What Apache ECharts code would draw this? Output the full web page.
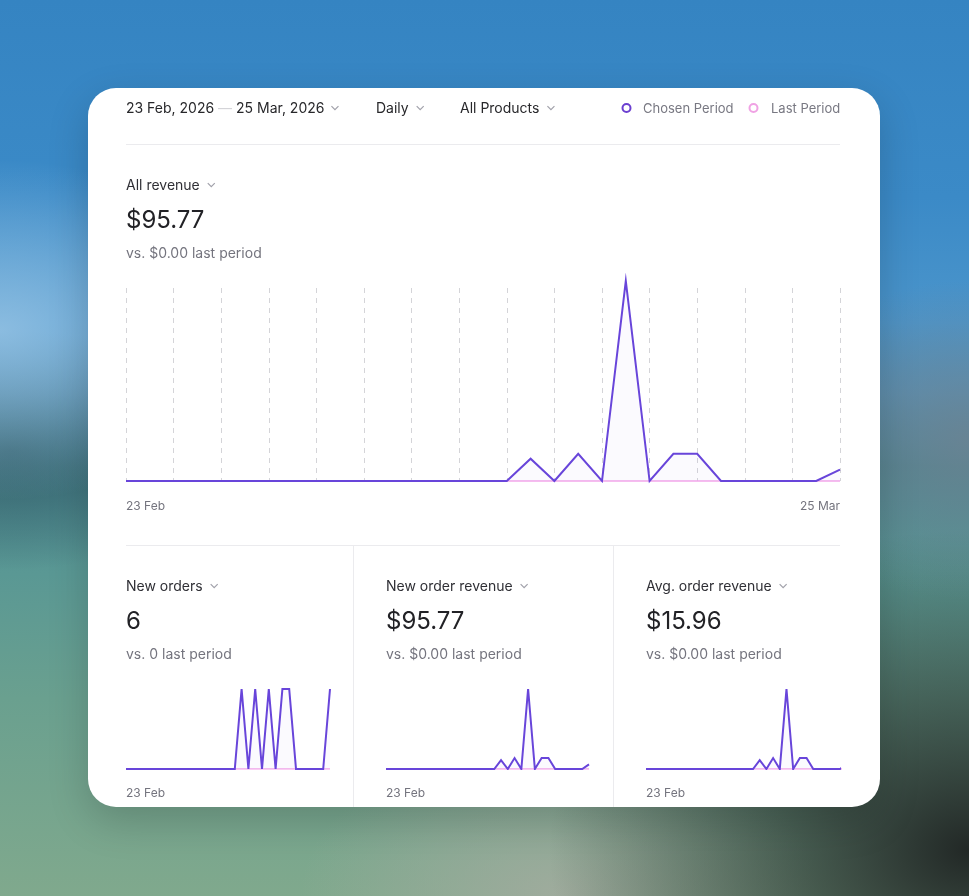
<!DOCTYPE html>
<html>
<head>
<meta charset="utf-8">
<script src="https://cdn.jsdelivr.net/npm/echarts@6/dist/echarts.min.js"></script>
<style>
html,body{margin:0;padding:0;width:969px;height:896px;overflow:hidden;}
body{
  background:
    radial-gradient(ellipse 260px 170px at 0px 330px, rgba(150,195,228,0.85), rgba(150,195,228,0) 100%),
    radial-gradient(ellipse 220px 120px at 10px 450px, rgba(45,85,95,0.75), rgba(45,85,95,0) 100%),
    radial-gradient(ellipse 200px 160px at 969px 440px, rgba(110,130,145,0.8), rgba(110,130,145,0) 100%),
    radial-gradient(ellipse 420px 320px at 969px 850px, rgba(34,40,38,1), rgba(34,40,38,0) 100%),
    radial-gradient(ellipse 260px 160px at 560px 896px, rgba(165,172,160,0.85), rgba(165,172,160,0) 100%),
    linear-gradient(180deg, #3584c2 0%, #3b8ac7 22%, #4b95cb 36%, #5492b8 44%, #4a8590 52%, #5a9894 64%, #6aa08f 78%, #80a98d 100%);
}
#card{position:absolute;left:88px;top:88px;width:792px;height:719px;background:#fff;border-radius:28px;box-shadow:0 14px 40px rgba(0,0,0,0.18);}
#chart{position:absolute;left:0;top:0;width:969px;height:896px;}
</style>
</head>
<body>
<div id="card"></div>
<div id="chart"></div>
<script>
// ---------- DATA ----------
const dates = ['23 Feb','24 Feb','25 Feb','26 Feb','27 Feb','28 Feb','1 Mar','2 Mar','3 Mar','4 Mar','5 Mar','6 Mar','7 Mar','8 Mar','9 Mar','10 Mar','11 Mar','12 Mar','13 Mar','14 Mar','15 Mar','16 Mar','17 Mar','18 Mar','19 Mar','20 Mar','21 Mar','22 Mar','23 Mar','24 Mar','25 Mar'];

const chosenRevenue = [0,0,0,0,0,0,0,0,0,0,0,0,0,0,0,0,0,6.77,0,8.28,0,60.71,0,8.28,8.28,0,0,0,0,0,3.45];
const lastRevenue   = [0,0,0,0,0,0,0,0,0,0,0,0,0,0,0,0,0,0,0,0,0,0,0,0,0,0,0,0,0,0,0];

const chosenOrders  = [0,0,0,0,0,0,0,0,0,0,0,0,0,0,0,0,0,1,0,1,0,1,0,1,1,0,0,0,0,0,1];
const lastOrders    = [0,0,0,0,0,0,0,0,0,0,0,0,0,0,0,0,0,0,0,0,0,0,0,0,0,0,0,0,0,0,0];

const chosenNewOrderRevenue = [0,0,0,0,0,0,0,0,0,0,0,0,0,0,0,0,0,6.77,0,8.28,0,60.71,0,8.28,8.28,0,0,0,0,0,3.45];
const lastNewOrderRevenue   = [0,0,0,0,0,0,0,0,0,0,0,0,0,0,0,0,0,0,0,0,0,0,0,0,0,0,0,0,0,0,0];

const chosenAvgOrderRevenue = [0,0,0,0,0,0,0,0,0,0,0,0,0,0,0,0,0,6.77,0,8.28,0,60.71,0,8.28,8.28,0,0,0,0,0,3.45];
const lastAvgOrderRevenue   = [0,0,0,0,0,0,0,0,0,0,0,0,0,0,0,0,0,0,0,0,0,0,0,0,0,0,0,0,0,0,0];

const headerRange = ['23 Feb, 2026', '—', '25 Mar, 2026'];
const headerFilters = ['Daily', 'All Products'];
const legendNames = ['Chosen Period', 'Last Period'];
const mainMetric = {title: 'All revenue', value: '$95.77', compare: 'vs. $0.00 last period'};
const subMetrics = [
  {title: 'New orders', value: '6', compare: 'vs. 0 last period'},
  {title: 'New order revenue', value: '$95.77', compare: 'vs. $0.00 last period'},
  {title: 'Avg. order revenue', value: '$15.96', compare: 'vs. $0.00 last period'}
];

// ---------- STYLE ----------
const FONT = 'Inter, "Noto Sans", sans-serif';
const PURPLE = '#6845da';
const PINK = '#f4a6ea';
const AREA = 'rgba(120, 80, 225, 0.045)';

const mctx = document.createElement('canvas').getContext('2d');
function tw(text, size) { mctx.font = size + 'px Inter'; return mctx.measureText(text).width; }

const g = [];
function txt(x, y, text, size, fill, align) {
  g.push({type:'text', x:x, y:y, z:100, silent:true,
    style:{text:text, font: size + 'px ' + FONT, fill:fill, align: align || 'left', verticalAlign:'middle'}});
}
function chevron(x, y) {
  g.push({type:'polyline', z:100, silent:true,
    shape:{points:[[x, y-1.8],[x+3.5, y+1.7],[x+7, y-1.8]]},
    style:{stroke:'#a1a1aa', lineWidth:1.2, fill:null}});
}
function hline(x1, x2, y) {
  g.push({type:'line', z:100, silent:true, shape:{x1:x1, y1:y, x2:x2, y2:y}, style:{stroke:'#ebebee', lineWidth:1}});
}
function vline(x, y1, y2) {
  g.push({type:'line', z:100, silent:true, shape:{x1:x, y1:y1, x2:x, y2:y2}, style:{stroke:'#ebebee', lineWidth:1}});
}
function ring(cx, cy, color) {
  g.push({type:'circle', z:100, silent:true, shape:{cx:cx, cy:cy, r:4}, style:{stroke:color, lineWidth:2, fill:'#fff'}});
}

// header
const HY = 109;
let hx = 126;
txt(hx, HY, headerRange[0], 14, '#27272a');
hx += tw(headerRange[0] + ' ', 14);
txt(hx, HY, headerRange[1], 14, '#d4d4d8');
hx += tw(headerRange[1] + ' ', 14);
txt(hx, HY, headerRange[2], 14, '#27272a');
hx += tw(headerRange[2], 14);
chevron(hx + 7, 108);
txt(376, HY, headerFilters[0], 14, '#27272a');
chevron(376 + tw(headerFilters[0], 14) + 8, 108);
txt(460, HY, headerFilters[1], 14, '#27272a');
chevron(460 + tw(headerFilters[1], 14) + 8, 108);
ring(626.5, 108, '#6b3fd0');
txt(643, HY, legendNames[0], 13, '#787882');
ring(753.5, 108, '#f0a2e4');
txt(771, HY, legendNames[1], 13, '#787882');
hline(126, 840, 144.5);

// main metric
txt(126, 186, mainMetric.title, 14, '#2f2f35');
chevron(126 + tw(mainMetric.title, 14) + 8, 185);
txt(126, 221, mainMetric.value, 24, '#222226');
txt(126, 254, mainMetric.compare, 14, '#74747e');

hline(126, 840, 545.5);
vline(353.5, 545, 807);
vline(613.5, 545, 807);

const colX = [126, 386, 646];
subMetrics.forEach((m, i) => {
  const x = colX[i];
  txt(x, 587, m.title, 14, '#2f2f35');
  chevron(x + tw(m.title, 14) + 8, 586);
  txt(x, 622, m.value, 24, '#222226');
  txt(x, 655, m.compare, 14, '#74747e');
});

// ---------- CHART ----------
const chart = echarts.init(document.getElementById('chart'), null, {renderer:'canvas'});

const baseLabel = {color:'#74747e', fontSize:12, fontFamily:FONT};
function xAxis(gridIndex, extra) {
  return Object.assign({
    type:'category', gridIndex:gridIndex, data:dates, boundaryGap:false,
    axisLine:{show:false}, axisTick:{show:false}, splitLine:{show:false}
  }, extra);
}
function yAxis(gridIndex, extra) {
  return Object.assign({
    type:'value', gridIndex:gridIndex, min:0, max:'dataMax', show:false,
    splitLine:{show:false}
  }, extra);
}
function pair(idx, last, chosen, clip) {
  return [
    {type:'line', xAxisIndex:idx, yAxisIndex:idx, data:last, symbol:'none', silent:true, clip:clip,
     lineStyle:{color:PINK, width:1.6}, z:2},
    {type:'line', xAxisIndex:idx, yAxisIndex:idx, data:chosen, symbol:'none', silent:true, clip:clip,
     lineStyle:{color:PURPLE, width:2, join:'miter'}, areaStyle:{color:AREA, origin:'start'}, z:3}
  ];
}

const option = {
  backgroundColor:'transparent',
  animation:false,
  textStyle:{fontFamily:FONT},
  graphic:g,
  grid:[
    {left:126, top:288, width:714, height:193},
    {left:126, top:689, width:204, height:80},
    {left:386, top:689, width:203, height:80},
    {left:646, top:689, width:194, height:80}
  ],
  xAxis:[
    xAxis(0, {
      splitLine:{show:true, interval:(i) => i % 2 === 0, lineStyle:{color:'#d4d4d8', type:[5,5], width:1}},
      axisLabel:Object.assign({}, baseLabel, {margin:19, interval:(i) => i === 0 || i === dates.length - 1,
        alignMinLabel:'left', alignMaxLabel:'right'})
    }),
    xAxis(1, {axisLabel:Object.assign({}, baseLabel, {margin:18, interval:(i) => i === 0, alignMinLabel:'left'})}),
    xAxis(2, {axisLabel:Object.assign({}, baseLabel, {margin:18, interval:(i) => i === 0, alignMinLabel:'left'})}),
    xAxis(3, {max:29, axisLabel:Object.assign({}, baseLabel, {margin:18, interval:(i) => i === 0, alignMinLabel:'left'})})
  ],
  yAxis:[
    yAxis(0, {max:(v) => v.max * 0.965}),
    yAxis(1),
    yAxis(2),
    yAxis(3)
  ],
  series:[].concat(
    pair(0, lastRevenue, chosenRevenue, false),
    pair(1, lastOrders, chosenOrders, true),
    pair(2, lastNewOrderRevenue, chosenNewOrderRevenue, true),
    pair(3, lastAvgOrderRevenue, chosenAvgOrderRevenue, true)
  )
};
chart.setOption(option);
</script>
</body>
</html>
